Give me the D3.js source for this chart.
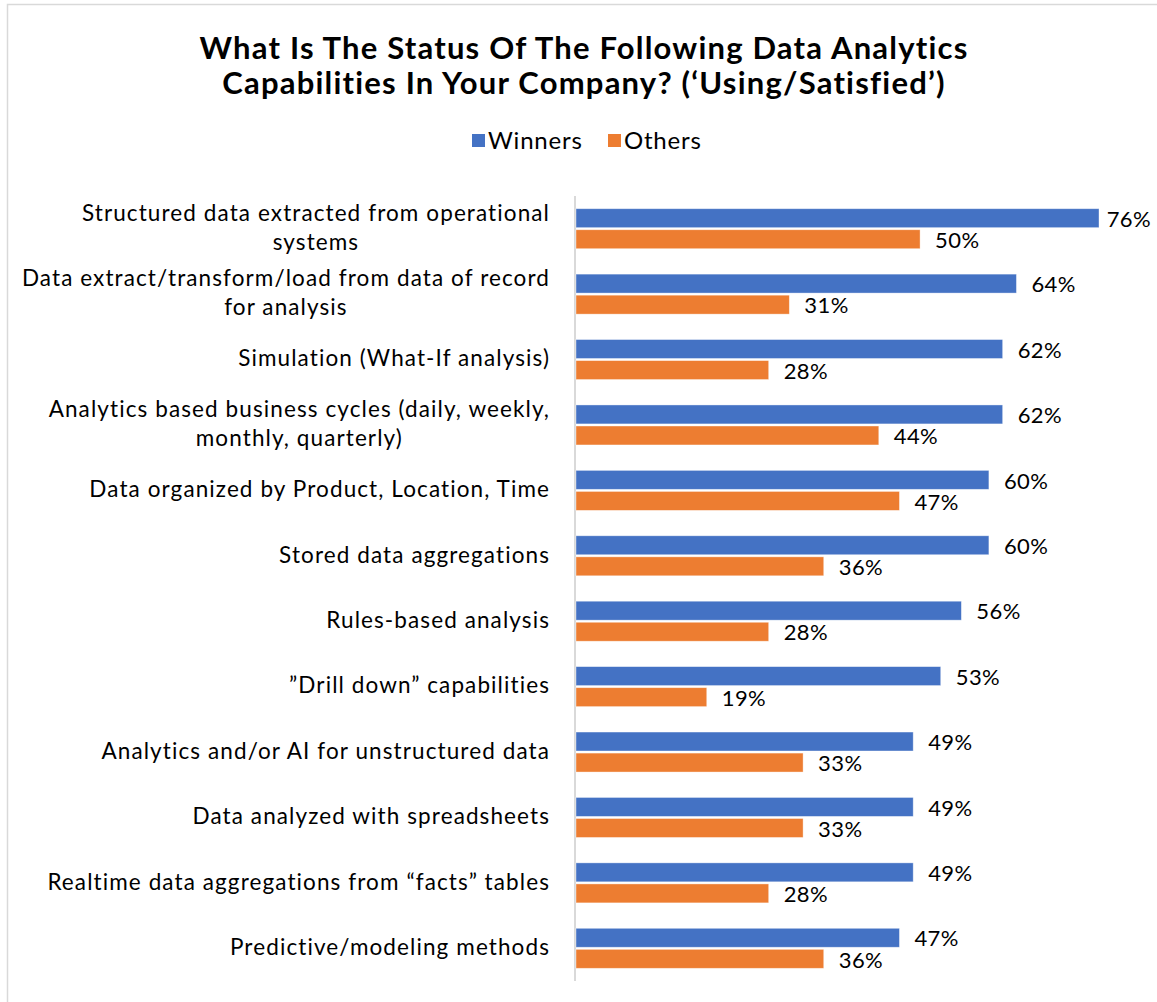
<!doctype html>
<html>
<head>
<meta charset="utf-8">
<script src="https://cdn.jsdelivr.net/npm/d3@7"></script>
<style>
  body { margin: 0; background: #fff; }
  svg { display: block; font-family: Lato, "Noto Sans", sans-serif; }
</style>
</head>
<body>
<script>
const categories = [
  ["Structured data extracted from operational", "systems"],
  ["Data extract/transform/load from data of record", "for analysis"],
  ["Simulation (What-If analysis)"],
  ["Analytics based business cycles (daily, weekly,", "monthly, quarterly)"],
  ["Data organized by Product, Location, Time"],
  ["Stored data aggregations"],
  ["Rules-based analysis"],
  ["\u201DDrill down\u201D capabilities"],
  ["Analytics and/or AI for unstructured data"],
  ["Data analyzed with spreadsheets"],
  ["Realtime data aggregations from \u201Cfacts\u201D tables"],
  ["Predictive/modeling methods"]
];
const winners = [76, 64, 62, 62, 60, 60, 56, 53, 49, 49, 49, 47];
const others = [50, 31, 28, 44, 47, 36, 28, 19, 33, 33, 28, 36];
const seriesNames = ["Winners", "Others"];
const colors = ["#4472C4", "#ED7D31"];
const titleLines = [
  "What Is The Status Of The Following Data Analytics",
  "Capabilities In Your Company? (\u2018Using/Satisfied\u2019)"
];

const width = 1157, height = 1002;
const svg = d3.select("body").append("svg")
    .attr("width", width)
    .attr("height", height);

// chart frame (only top and left edges are in view)
svg.append("rect")
    .attr("x", 7.5).attr("y", 4.5)
    .attr("width", 1200).attr("height", 1100)
    .attr("fill", "#fff")
    .attr("stroke", "#d9d9d9")
    .attr("stroke-width", 1.5);

// title
svg.append("g")
    .selectAll("text")
    .data(titleLines)
    .join("text")
      .attr("x", 584)
      .attr("y", (d, i) => 59 + i * 35)
      .attr("text-anchor", "middle")
      .attr("font-size", 31)
      .attr("font-weight", 700)
      .attr("letter-spacing", 1.2)
      .attr("fill", "#000")
      .text(d => d);

// legend
const legend = svg.append("g").attr("transform", "translate(0,141)");
const legendX = [472, 608];
seriesNames.forEach((name, i) => {
  legend.append("rect")
      .attr("x", legendX[i]).attr("y", -7)
      .attr("width", 13).attr("height", 13)
      .attr("fill", colors[i]);
  legend.append("text")
      .attr("x", legendX[i] + 16).attr("y", 0)
      .attr("dy", "0.35em")
      .attr("font-size", 24)
      .attr("letter-spacing", 0.8)
      .attr("fill", "#000")
      .text(name);
});

const x = d3.scaleLinear().domain([0, 76]).range([576, 1099]);
const y = d3.scaleBand().domain(d3.range(categories.length)).range([196, 981]);
const sub = d3.scaleBand().domain([0, 1]).range([y.bandwidth() / 2 - 20, y.bandwidth() / 2 + 20]).paddingInner(0.1);

// axis line
svg.append("line")
    .attr("x1", 575).attr("x2", 575)
    .attr("y1", y.range()[0]).attr("y2", y.range()[1])
    .attr("stroke", "#d9d9d9")
    .attr("stroke-width", 2);

const groups = svg.append("g")
  .selectAll("g")
  .data(categories.map((c, i) => ({lines: c, vals: [winners[i], others[i]], i})))
  .join("g")
    .attr("transform", d => `translate(0,${y(d.i)})`);

groups.selectAll("rect")
  .data(d => d.vals)
  .join("rect")
    .attr("x", x(0))
    .attr("y", (v, j) => sub(j))
    .attr("width", v => x(v) - x(0))
    .attr("height", sub.bandwidth())
    .attr("fill", (v, j) => colors[j])
    .attr("stroke", "#fff")
    .attr("stroke-opacity", 0.5)
    .attr("stroke-width", 0.75);

groups.selectAll("text.val")
  .data(d => d.vals)
  .join("text")
    .attr("class", "val")
    .attr("y", (v, j) => sub(j) + sub.bandwidth() / 2 + 1)
    .attr("dy", "0.35em")
    .attr("font-size", 22)
    .attr("letter-spacing", 0.4)
    .attr("fill", "#000")
    .text(v => v + "%")
    .attr("x", function(v) {
      const w = this.getComputedTextLength();
      return Math.min(x(v) + 15, 1151 - w);
    });

// category labels: block right-aligned at 550, lines centered within block
const labelSize = 22.5, lineH = 29;
groups.each(function(d) {
  const g = d3.select(this);
  const texts = g.selectAll("text.cat")
    .data(d.lines)
    .join("text")
      .attr("class", "cat")
      .attr("font-size", labelSize)
      .attr("letter-spacing", 1.1)
      .attr("fill", "#000")
      .attr("dy", "0.35em")
      .attr("y", (t, k) => y.bandwidth() / 2 + (k - (d.lines.length - 1) / 2) * lineH - 1)
      .text(t => t);
  const wMax = d3.max(texts.nodes(), n => n.getComputedTextLength());
  texts.attr("text-anchor", "middle").attr("x", 550 - wMax / 2);
});
</script>
</body>
</html>
